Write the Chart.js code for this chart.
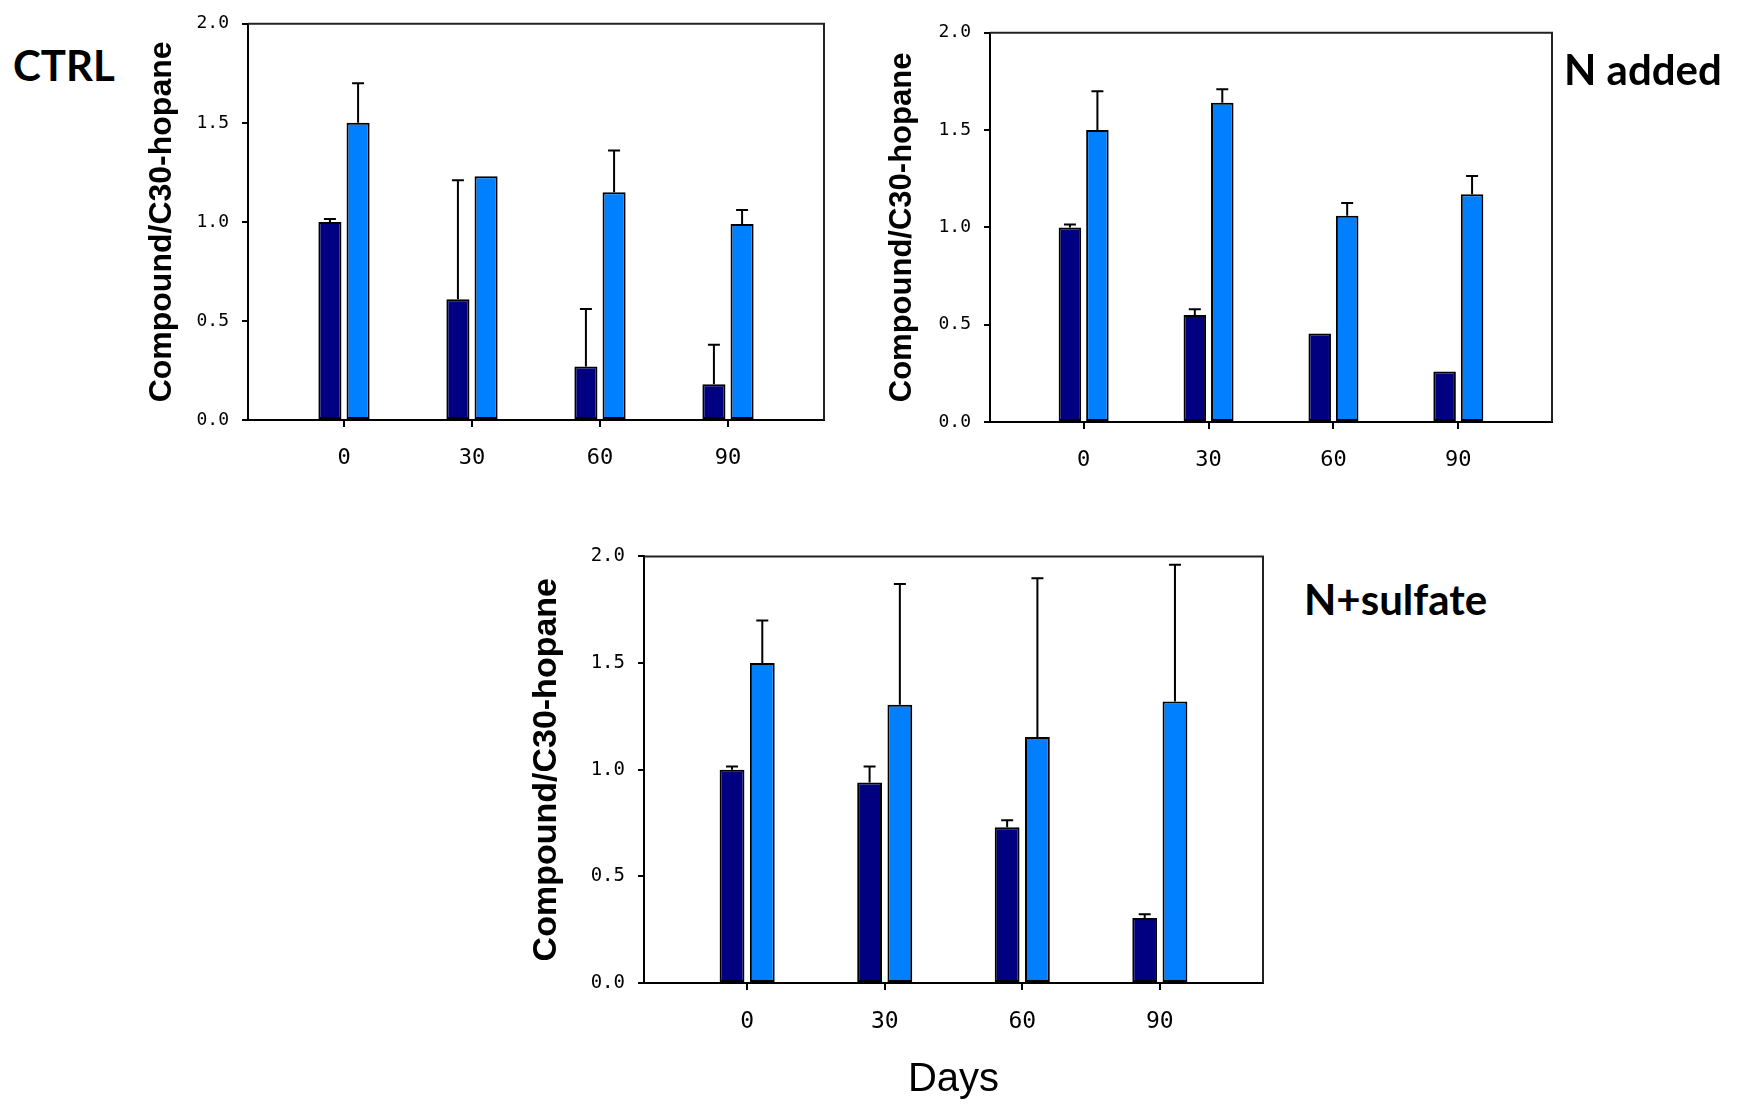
<!DOCTYPE html>
<html><head><meta charset="utf-8">
<script src="https://cdn.jsdelivr.net/npm/chart.js@4.4.1/dist/chart.umd.min.js"></script>
<style>
html,body{margin:0;padding:0;background:#fff;overflow:hidden;width:1741px;height:1104px;}
.wrap{position:absolute;}
.lab{position:absolute;font-family:Lato,'Open Sans',sans-serif;font-weight:700;font-size:42px;line-height:1;color:#000;white-space:nowrap;}
</style></head><body>
<div class="wrap" id="w1"><canvas id="c1"></canvas></div>
<div class="wrap" id="w2"><canvas id="c2"></canvas></div>
<div class="wrap" id="w3"><canvas id="c3"></canvas></div>
<div class="lab" id="t1"></div>
<div class="lab" id="t2"></div>
<div class="lab" id="t3"></div>
<script>
// ---- data ----
const days = [0, 30, 60, 90];
const yTickValues = [0, 0.5, 1.0, 1.5, 2.0];
const seriesNames = ['Series 1', 'Series 2'];
const panelTitles = ['CTRL', 'N added', 'N+sulfate'];
const yAxisTitle = 'Compound/C30-hopane';
const xAxisTitle = 'Days';

const ctrlDark = [1.00, 0.61, 0.27, 0.18];
const ctrlDarkErr = [0.015, 0.60, 0.29, 0.20];
const ctrlBlue = [1.50, 1.23, 1.15, 0.99];
const ctrlBlueErr = [0.20, 0, 0.21, 0.07];

const nDark = [1.00, 0.55, 0.455, 0.26];
const nDarkErr = [0.015, 0.03, 0, 0];
const nBlue = [1.50, 1.64, 1.06, 1.17];
const nBlueErr = [0.20, 0.07, 0.065, 0.094];

const nsDark = [1.00, 0.94, 0.73, 0.305];
const nsDarkErr = [0.015, 0.075, 0.033, 0.017];
const nsBlue = [1.50, 1.305, 1.153, 1.32];
const nsBlueErr = [0.20, 0.566, 0.744, 0.641];

// ---- plugins ----
const errorBars = {
  id: 'errorBars',
  afterDatasetsDraw(chart) {
    const ctx = chart.ctx, ys = chart.scales.y;
    chart.data.datasets.forEach((ds, di) => {
      const meta = chart.getDatasetMeta(di);
      meta.data.forEach((bar, i) => {
        const e = ds.errors[i];
        if (!e) return;
        const yTop = ys.getPixelForValue(ds.data[i] + e);
        ctx.save();
        ctx.strokeStyle = '#000';
        ctx.lineWidth = 2;
        ctx.beginPath();
        ctx.moveTo(bar.x, bar.y);
        ctx.lineTo(bar.x, yTop);
        ctx.moveTo(bar.x - 6, yTop);
        ctx.lineTo(bar.x + 6, yTop);
        ctx.stroke();
        ctx.restore();
      });
    });
  }
};
const frame = {
  id: 'frame',
  beforeDatasetsDraw(chart) {
    const {left, top, right, bottom} = chart.chartArea;
    const ctx = chart.ctx;
    ctx.save();
    ctx.strokeStyle = '#222';
    ctx.lineWidth = 2;
    ctx.beginPath();
    ctx.moveTo(left, top);
    ctx.lineTo(right, top);
    ctx.lineTo(right, bottom);
    ctx.stroke();
    ctx.restore();
  }
};

function makePanel(n, rect, dark, darkErr, blue, blueErr, cfg) {
  const yW = 120, padTop = 20, padRight = 20;
  const w = rect.R - rect.L + yW + padRight;
  const h = rect.B - rect.T + padTop + cfg.xH;
  const wrap = document.getElementById('w' + n);
  wrap.style.left = (rect.L - yW) + 'px';
  wrap.style.top = (rect.T - padTop) + 'px';
  const cv = document.getElementById('c' + n);
  cv.width = w; cv.height = h;
  cv.style.width = w + 'px'; cv.style.height = h + 'px';
  new Chart(cv, {
    type: 'bar',
    data: {
      labels: days,
      datasets: [
        {label: seriesNames[0], data: dark, errors: darkErr, backgroundColor: '#000080', borderColor: '#000', borderWidth: 2, borderSkipped: false},
        {label: seriesNames[1], data: blue, errors: blueErr, backgroundColor: '#0080FF', borderColor: '#000', borderWidth: 2, borderSkipped: false}
      ]
    },
    options: {
      responsive: false,
      animation: false,
      devicePixelRatio: 1,
      categoryPercentage: 0.44,
      barPercentage: 0.82,
      layout: {padding: {top: padTop, right: padRight, left: 0, bottom: 0}},
      plugins: {legend: {display: false}, tooltip: {enabled: false}},
      scales: {
        x: {
          type: 'linear',
          min: -22.5, max: 112.5,
          offset: false,
          afterFit(s) { s.height = cfg.xH; },
          afterBuildTicks(s) { s.ticks = days.map(v => ({value: v})); },
          grid: {display: true, drawOnChartArea: false, drawTicks: true, tickLength: 7, color: '#000', lineWidth: 2, offset: false},
          border: {display: true, color: '#000', width: 2},
          ticks: {color: '#000', padding: 18, maxRotation: 0, font: {family: 'DejaVu Sans Mono', size: cfg.xFont}, callback: v => String(v)},
          title: {display: cfg.showX, text: xAxisTitle, color: '#000', font: {family: 'Liberation Sans', size: 40}, padding: {top: 0, bottom: 2}}
        },
        y: {
          min: 0, max: 2,
          afterFit(s) { s.width = yW; },
          afterBuildTicks(s) { s.ticks = yTickValues.map(v => ({value: v})); },
          grid: {display: true, drawOnChartArea: false, drawTicks: true, tickLength: 6, color: '#000', lineWidth: 2},
          border: {display: true, color: '#000', width: 2},
          ticks: {color: '#000', padding: 13, font: {family: 'DejaVu Sans Mono', size: cfg.yFont}, callback: v => v.toFixed(1)},
          title: {display: true, text: yAxisTitle, color: '#000', font: {family: 'Liberation Sans', size: cfg.tFont, weight: 'bold'}, padding: {top: cfg.tPad, bottom: 0}}
        }
      }
    },
    plugins: [frame, errorBars]
  });
}

makePanel(1, {L: 248, T: 20, R: 824, B: 420}, ctrlDark, ctrlDarkErr, ctrlBlue, ctrlBlueErr,
  {xH: 70, xFont: 22, yFont: 18, tFont: 32, tPad: 14.8, showX: false});
makePanel(2, {L: 990, T: 29, R: 1552, B: 422}, nDark, nDarkErr, nBlue, nBlueErr,
  {xH: 70, xFont: 22, yFont: 18, tFont: 31, tPad: 13.4, showX: false});
makePanel(3, {L: 644, T: 552, R: 1263, B: 983}, nsDark, nsDarkErr, nsBlue, nsBlueErr,
  {xH: 123, xFont: 23, yFont: 19, tFont: 34, tPad: 2.6, showX: true});

const labPos = [[13, 44], [1564, 48], [1304, 578]];
panelTitles.forEach((t, i) => {
  const d = document.getElementById('t' + (i + 1));
  d.textContent = t;
  d.style.left = labPos[i][0] + 'px';
  d.style.top = labPos[i][1] + 'px';
});
</script>
</body></html>
